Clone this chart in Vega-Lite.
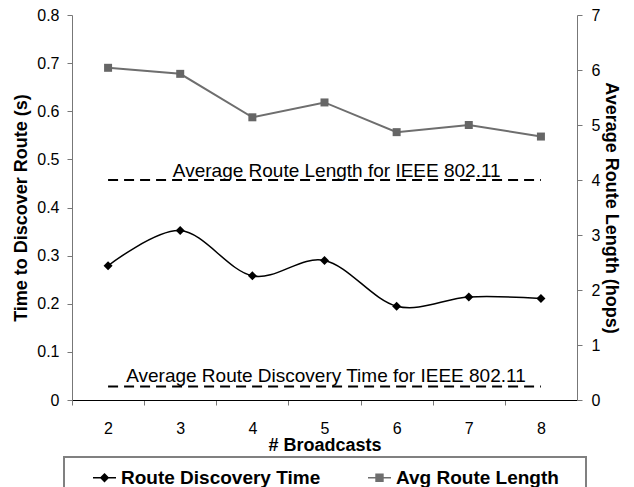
{
  "$schema": "https://vega.github.io/schema/vega-lite/v6.json",
  "width": 505,
  "height": 385,
  "autosize": {"type": "none"},
  "padding": {"left": 72, "top": 15, "right": 57, "bottom": 87},
  "background": "white",
  "config": {
    "view": {"stroke": null},
    "font": "Liberation Sans",
    "axis": {"grid": false, "labelFont": "Liberation Sans", "titleFont": "Liberation Sans", "labelColor": "#000", "titleColor": "#000", "labelFontSize": 16, "titleFontSize": 18, "titleFontWeight": "bold", "tickSize": 5, "labelOverlap": false}
  },
  "data": {"values": [
    {"b": 2, "time": 0.279, "len": 6.04},
    {"b": 3, "time": 0.352, "len": 5.93},
    {"b": 4, "time": 0.258, "len": 5.14},
    {"b": 5, "time": 0.290, "len": 5.41},
    {"b": 6, "time": 0.195, "len": 4.87},
    {"b": 7, "time": 0.214, "len": 5.00},
    {"b": 8, "time": 0.211, "len": 4.79}
  ]},
  "layer": [
    {
      "layer": [
        {
          "mark": {"type": "line", "interpolate": "cardinal", "strokeWidth": 1.5},
          "encoding": {
            "x": {"field": "b", "type": "quantitative", "scale": {"domain": [1.5, 8.5], "nice": false, "zero": false},
              "axis": {"title": "# Broadcasts", "values": [2, 3, 4, 5, 6, 7, 8], "format": "d",
                "tickOffset": -36.07, "labelOffset": 36.07,
                "domainColor": "#000", "tickColor": "#777", "labelPadding": 15, "titlePadding": 0, "labelFlush": false}},
            "y": {"field": "time", "type": "quantitative", "scale": {"domain": [0, 0.8], "nice": false},
              "axis": {"title": "Time to Discover Route (s)", "values": [0, 0.1, 0.2, 0.3, 0.4, 0.5, 0.6, 0.7, 0.8],
                "labelExpr": "datum.value == 0 ? '0' : format(datum.value, '.1f')",
                "domainColor": "#777", "tickColor": "#777", "labelPadding": 8, "titlePadding": 6}},
            "color": {"datum": "Route Discovery Time", "type": "nominal",
              "scale": {"domain": ["Route Discovery Time", "Avg Route Length"], "range": ["#000000", "#6e6e6e"]},
              "legend": {"title": " ", "titleOrient": "right", "titlePadding": 19, "titleFontSize": 10,
                "orient": "none", "legendX": -8, "legendY": 442, "direction": "horizontal",
                "strokeColor": "#808080", "padding": 8, "symbolOffset": 20,
                "labelFont": "Liberation Sans", "labelFontSize": 19, "labelFontWeight": "bold", "labelColor": "#000",
                "symbolSize": 529, "symbolStrokeWidth": 1.5, "columnPadding": 26, "labelOffset": 4, "labelLimit": 400,
                "encode": {
                  "legend": {"update": {"strokeWidth": {"value": 2}}},
                  "symbols": {"update": {
                  "shape": {"signal": "datum.value == 'Route Discovery Time' ? 'M-1,0L1,0M0,-0.32L0.32,0L0,0.32L-0.32,0Z' : 'M-1,0L1,0M-0.3,-0.3L0.3,-0.3L0.3,0.3L-0.3,0.3Z'"},
                  "fill": {"signal": "datum.value == 'Route Discovery Time' ? '#000000' : '#6e6e6e'"},
                  "fillOpacity": {"value": 1}
                }}}}}
          }
        },
        {
          "mark": {"type": "point", "shape": "diamond", "filled": true, "size": 81, "color": "#000", "opacity": 1},
          "encoding": {
            "x": {"field": "b", "type": "quantitative"},
            "y": {"field": "time", "type": "quantitative"}
          }
        },
        {
          "data": {"values": [{"xs": 2, "xe": 8, "v": 0.028}]},
          "mark": {"type": "rule", "color": "#000", "strokeWidth": 2, "strokeDash": [10, 6]},
          "encoding": {
            "x": {"field": "xs", "type": "quantitative"},
            "x2": {"field": "xe"},
            "y": {"field": "v", "type": "quantitative"}
          }
        },
        {
          "data": {"values": [{"xs": 5.02, "v": 0.037, "t": "Average Route Discovery Time for IEEE 802.11"}]},
          "mark": {"type": "text", "font": "Liberation Sans", "fontSize": 19, "baseline": "alphabetic", "align": "center", "color": "#000"},
          "encoding": {
            "x": {"field": "xs", "type": "quantitative"},
            "y": {"field": "v", "type": "quantitative"},
            "text": {"field": "t"}
          }
        }
      ]
    },
    {
      "layer": [
        {
          "mark": {"type": "line", "strokeWidth": 2},
          "encoding": {
            "x": {"field": "b", "type": "quantitative"},
            "y": {"field": "len", "type": "quantitative", "scale": {"domain": [0, 7], "nice": false},
              "axis": {"orient": "right", "title": "Average Route Length (hops)", "values": [0, 1, 2, 3, 4, 5, 6, 7],
                "format": "d",
                "domainColor": "#777", "tickColor": "#777", "labelPadding": 9, "titlePadding": 2}},
            "color": {"datum": "Avg Route Length", "type": "nominal"}
          }
        },
        {
          "mark": {"type": "point", "shape": "square", "filled": true, "size": 64, "color": "#666666", "opacity": 1},
          "encoding": {
            "x": {"field": "b", "type": "quantitative"},
            "y": {"field": "len", "type": "quantitative"}
          }
        },
        {
          "data": {"values": [{"xs": 2, "xe": 8, "v": 4.0}]},
          "mark": {"type": "rule", "color": "#000", "strokeWidth": 2, "strokeDash": [10, 6]},
          "encoding": {
            "x": {"field": "xs", "type": "quantitative"},
            "x2": {"field": "xe"},
            "y": {"field": "v", "type": "quantitative"}
          }
        },
        {
          "data": {"values": [{"xs": 5.17, "v": 4.06, "t": "Average Route Length for IEEE 802.11"}]},
          "mark": {"type": "text", "font": "Liberation Sans", "fontSize": 19, "baseline": "alphabetic", "align": "center", "color": "#000"},
          "encoding": {
            "x": {"field": "xs", "type": "quantitative"},
            "y": {"field": "v", "type": "quantitative"},
            "text": {"field": "t"}
          }
        }
      ]
    }
  ],
  "resolve": {"scale": {"y": "independent"}}
}
